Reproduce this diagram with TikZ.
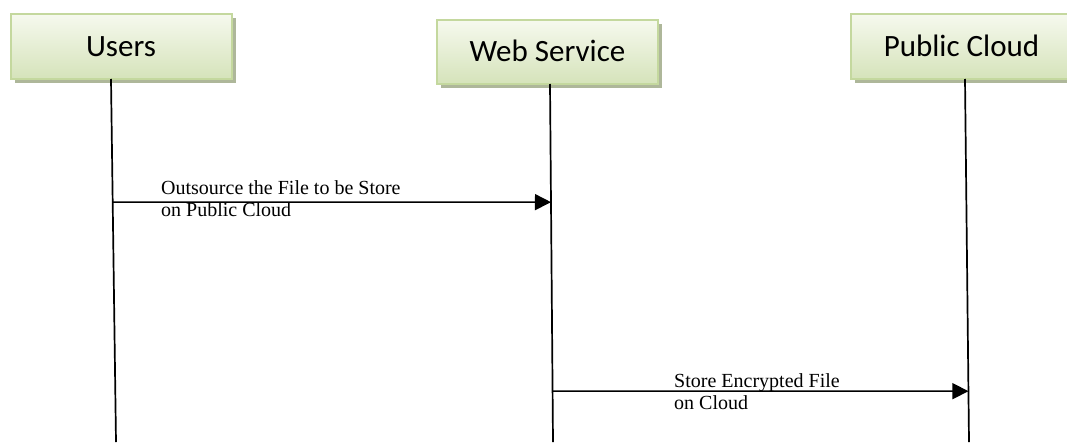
\documentclass[tikz,border=0pt]{standalone}
\usepackage{fontspec}
\setmainfont{Liberation Serif}
\newfontfamily\boxfont{Carlito}
\usetikzlibrary{arrows.meta,shadows,calc}
\definecolor{boxtop}{HTML}{F6F9EE}
\definecolor{boxbottom}{HTML}{D5E3BA}
\definecolor{boxedge}{HTML}{C4D89E}
\definecolor{boxshadow}{HTML}{AEB79A}

\begin{document}
\begin{tikzpicture}[x=1pt,y=-1pt,
  actor/.style={rectangle, draw=boxedge, line width=2pt,
    top color=boxtop, bottom color=boxbottom,
    minimum width=221pt, minimum height=65pt, inner sep=0pt,
    font=\boxfont\fontsize{31}{36}\selectfont,
    text height=19.8pt, text depth=0pt,
    drop shadow={shadow xshift=4pt, shadow yshift=-4pt, fill=boxshadow, opacity=1}},
  lifeline/.style={line width=1.7pt, black},
  msg/.style={line width=1.5pt, -{Triangle[length=16pt,width=16pt]}},
  msgtext/.style={font=\fontsize{20}{22}\selectfont, align=left, inner sep=0pt, anchor=base west}
]
\useasboundingbox (0,0) rectangle (1067,442);
\clip (0,0) rectangle (1067,442);

% participants
\node[actor] (users) at (121,46.5) {Users};
\node[actor, minimum height=64pt] (web) at (547.5,52) {Web Service};
\node[actor] (cloud) at (961.5,46.5) {Public Cloud};

% lifelines
\coordinate (usersTop) at (111,79);
\coordinate (usersEnd) at (116,442);
\coordinate (webTop) at (550,84);
\coordinate (webEnd) at (553,442);
\coordinate (cloudTop) at (965,79);
\coordinate (cloudEnd) at (969,442);
\draw[lifeline] (usersTop) -- (usersEnd);
\draw[lifeline] (webTop) -- (webEnd);
\draw[lifeline] (cloudTop) -- (cloudEnd);

% messages
\coordinate (m1from) at ($(usersTop)!0.339!(usersEnd)$);
\coordinate (m1to) at ($(webTop)!0.330!(webEnd)$);
\coordinate (m2from) at ($(webTop)!0.858!(webEnd)$);
\coordinate (m2to) at ($(cloudTop)!0.860!(cloudEnd)$);
\draw[msg] (m1from) -- (m1to);
\draw[msg] (m2from) -- (m2to);

% labels (anchored on the baseline of their last line)
\node[msgtext] (m1label) at (161,216) {Outsource the File to be Store\\on Public Cloud};
\node[msgtext] (m2label) at (674,409) {Store Encrypted File\\on Cloud};
\end{tikzpicture}
\end{document}
